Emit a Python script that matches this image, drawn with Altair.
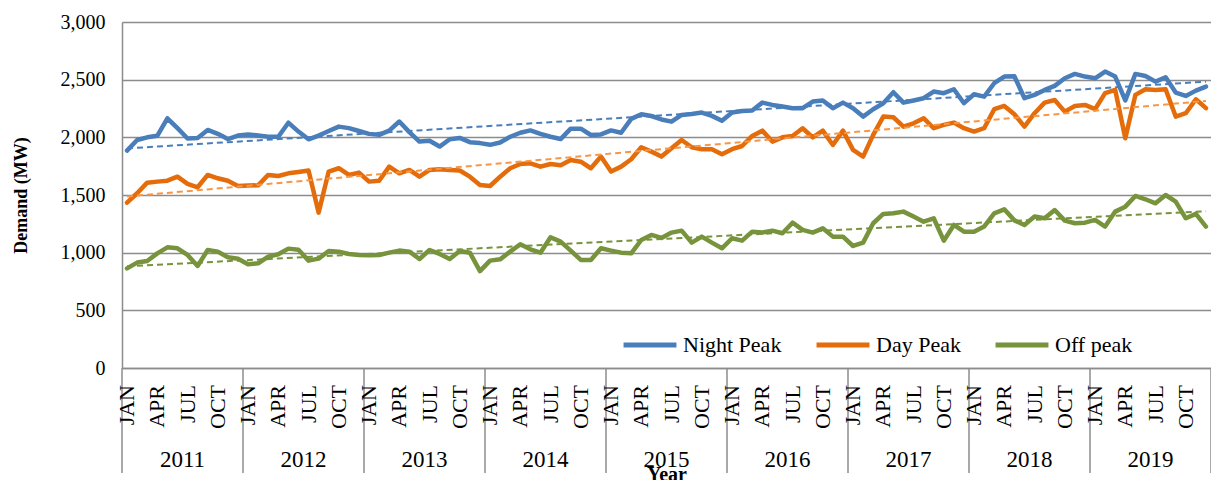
import altair as alt
import pandas as pd

years = [2011, 2012, 2013, 2014, 2015, 2016, 2017, 2018, 2019]
month_names = ["JAN", "FEB", "MAR", "APR", "MAY", "JUN",
               "JUL", "AUG", "SEP", "OCT", "NOV", "DEC"]
label_months = ["JAN", "APR", "JUL", "OCT"]
series_names = ["Night Peak", "Day Peak", "Off peak"]
y_ticks = [0, 500, 1000, 1500, 2000, 2500, 3000]

night = [
    1885, 1977, 2000, 2013, 2165, 2079, 1990, 1995, 2064, 2030, 1985, 2015,
    2025, 2015, 2005, 2005, 2127, 2050, 1983, 2015, 2055, 2093, 2080, 2055,
    2030, 2022, 2058, 2137, 2045, 1963, 1970, 1920, 1983, 1995, 1958, 1950,
    1935, 1955, 2005, 2040, 2060, 2030, 2005, 1985, 2075, 2075, 2020, 2025,
    2060, 2040, 2160, 2200, 2185, 2155, 2136, 2194, 2203, 2215, 2186, 2143,
    2215, 2229, 2232, 2301, 2281, 2267, 2253, 2253, 2310, 2319, 2253, 2301,
    2253, 2180, 2244, 2296, 2391, 2301, 2319, 2339, 2397, 2383, 2417, 2296,
    2374, 2353, 2469, 2527, 2530, 2339, 2368, 2411, 2446, 2512, 2550, 2527,
    2512, 2570, 2527, 2320, 2550, 2532, 2483, 2521, 2388, 2359, 2405, 2440,
]
day = [
    1434, 1515, 1607, 1616, 1624, 1659, 1596, 1567, 1674, 1645, 1624, 1579,
    1582, 1584, 1674, 1665, 1688, 1700, 1712, 1347, 1703, 1732, 1674, 1694,
    1616, 1624, 1746, 1688, 1717, 1659, 1717, 1723, 1717, 1712, 1659, 1587,
    1578, 1659, 1732, 1769, 1775, 1746, 1769, 1758, 1804, 1789, 1732, 1833,
    1703, 1746, 1810, 1914, 1876, 1833, 1905, 1977, 1914, 1897, 1897, 1853,
    1897, 1925, 2012, 2058, 1963, 2000, 2012, 2079, 2000, 2058, 1934, 2058,
    1891, 1833, 2021, 2180, 2174, 2093, 2122, 2166, 2079, 2108, 2128, 2079,
    2050, 2079, 2244, 2272, 2200, 2093, 2209, 2301, 2324, 2223, 2272, 2281,
    2244, 2383, 2411, 1992, 2368, 2417, 2411, 2417, 2180, 2209, 2330, 2253,
]
off = [
    864, 914, 928, 994, 1046, 1038, 980, 885, 1023, 1009, 960, 948,
    899, 908, 966, 986, 1035, 1026, 931, 948, 1015, 1009, 989, 980,
    977, 980, 1000, 1018, 1009, 945, 1023, 989, 945, 1015, 1000, 840,
    931, 942, 1009, 1073, 1029, 1000, 1133, 1096, 1018, 937, 937, 1038,
    1018, 1000, 994, 1110, 1154, 1128, 1174, 1191, 1087, 1139, 1087, 1038,
    1125, 1104, 1182, 1174, 1191, 1168, 1260, 1197, 1174, 1211, 1139, 1139,
    1058, 1087, 1255, 1336, 1341, 1356, 1313, 1269, 1298, 1104, 1240, 1182,
    1182, 1226, 1341, 1376, 1280, 1240, 1313, 1298, 1370, 1278, 1255, 1260,
    1284, 1226, 1356, 1399, 1492, 1463, 1428, 1500, 1443, 1298, 1336, 1226,
]

line_colors = ["#4A7EBB", "#E46C0A", "#77933C"]
trend_colors = ["#4A7EBB", "#F79646", "#77933C"]
GRID = "#8C8C8C"
FONT = "Liberation Serif"

rows = []
for name, vals in zip(series_names, [night, day, off]):
    for i, v in enumerate(vals):
        rows.append({"series": name, "idx": i + 0.5, "value": v})
df = pd.DataFrame(rows)

n_months = len(years) * 12
mlab = pd.DataFrame([
    {"idx": k * 12 + m + 0.5, "label": month_names[m]}
    for k in range(len(years)) for m in range(12)
    if month_names[m] in label_months
])
ylab = pd.DataFrame([{"idx": k * 12 + 6, "label": str(y)} for k, y in enumerate(years)])
seps = pd.DataFrame([{"idx": k * 12} for k in range(len(years) + 1)])

W, H = 1089, 346

xscale = alt.Scale(domain=[0, n_months], nice=False, zero=False)
yscale = alt.Scale(domain=[0, 3000], nice=False)

x_main = alt.X(
    "idx:Q", scale=xscale,
    axis=alt.Axis(labels=False, ticks=False, grid=False, domainColor=GRID,
                  domainWidth=1.5, title="Year", titleFont=FONT, titleFontSize=20,
                  titleFontWeight="bold", titleColor="black", titleY=96,
                  titleBaseline="top"),
)
y_axis = alt.Axis(values=y_ticks, labelExpr="format(datum.value, ',')",
                  grid=True, gridColor=GRID, gridWidth=1.5, domainColor=GRID,
                  domainWidth=1.5, ticks=False, labelPadding=17, labelFont=FONT,
                  labelFontSize=20, labelColor="black", title="Demand (MW)",
                  titleFont=FONT, titleFontSize=18, titleFontWeight="bold",
                  titleColor="black", titleAngle=270, titleX=-101, titleY=H / 2,
                  titleAlign="center", titleBaseline="middle")
y_main = alt.Y("value:Q", scale=yscale, axis=y_axis)

lines = alt.Chart(df).mark_line(strokeWidth=4.5, strokeJoin="round", strokeCap="round").encode(
    x=x_main, y=y_main,
    color=alt.Color("series:N", sort=series_names,
                    scale=alt.Scale(domain=series_names, range=line_colors),
                    legend=alt.Legend(orient="none", legendX=499, legendY=294,
                                      direction="horizontal", title=None,
                                      symbolType="stroke", symbolStrokeWidth=5,
                                      symbolSize=2800, labelFont=FONT,
                                      labelFontSize=22, labelColor="black",
                                      labelOffset=4, columnPadding=24,
                                      labelLimit=300)),
    detail="series:N",
)

trend = alt.Chart(df).transform_regression(
    "idx", "value", groupby=["series"], method="linear"
).mark_line(strokeDash=[6, 4], strokeWidth=2).encode(
    x=alt.X("idx:Q", scale=xscale),
    y=y_main,
    color=alt.Color("series:N", scale=alt.Scale(domain=series_names, range=trend_colors),
                    legend=None),
)

month_text = alt.Chart(mlab).mark_text(
    angle=270, align="right", baseline="middle", font=FONT, fontSize=22, color="black"
).encode(x=alt.X("idx:Q", scale=xscale), y=alt.value(H + 17), text="label:N")

year_text = alt.Chart(ylab).mark_text(
    align="center", baseline="middle", font=FONT, fontSize=23, color="black"
).encode(x=alt.X("idx:Q", scale=xscale), y=alt.value(H + 92), text="label:N")

sep_rules = alt.Chart(seps).mark_rule(color=GRID, strokeWidth=1.5).encode(
    x=alt.X("idx:Q", scale=xscale), y=alt.value(H), y2=alt.value(H + 105)
)

chart = alt.layer(sep_rules, lines, trend, month_text, year_text).resolve_scale(
    color="independent"
).properties(
    width=W, height=H,
    autosize=alt.AutoSizeParams(type="none"),
    padding={"left": 114, "top": 14, "right": 0, "bottom": 112},
).configure_view(stroke=None).configure(background="white")

chart.save("out.html", embed_options={"renderer": "svg", "actions": False})
